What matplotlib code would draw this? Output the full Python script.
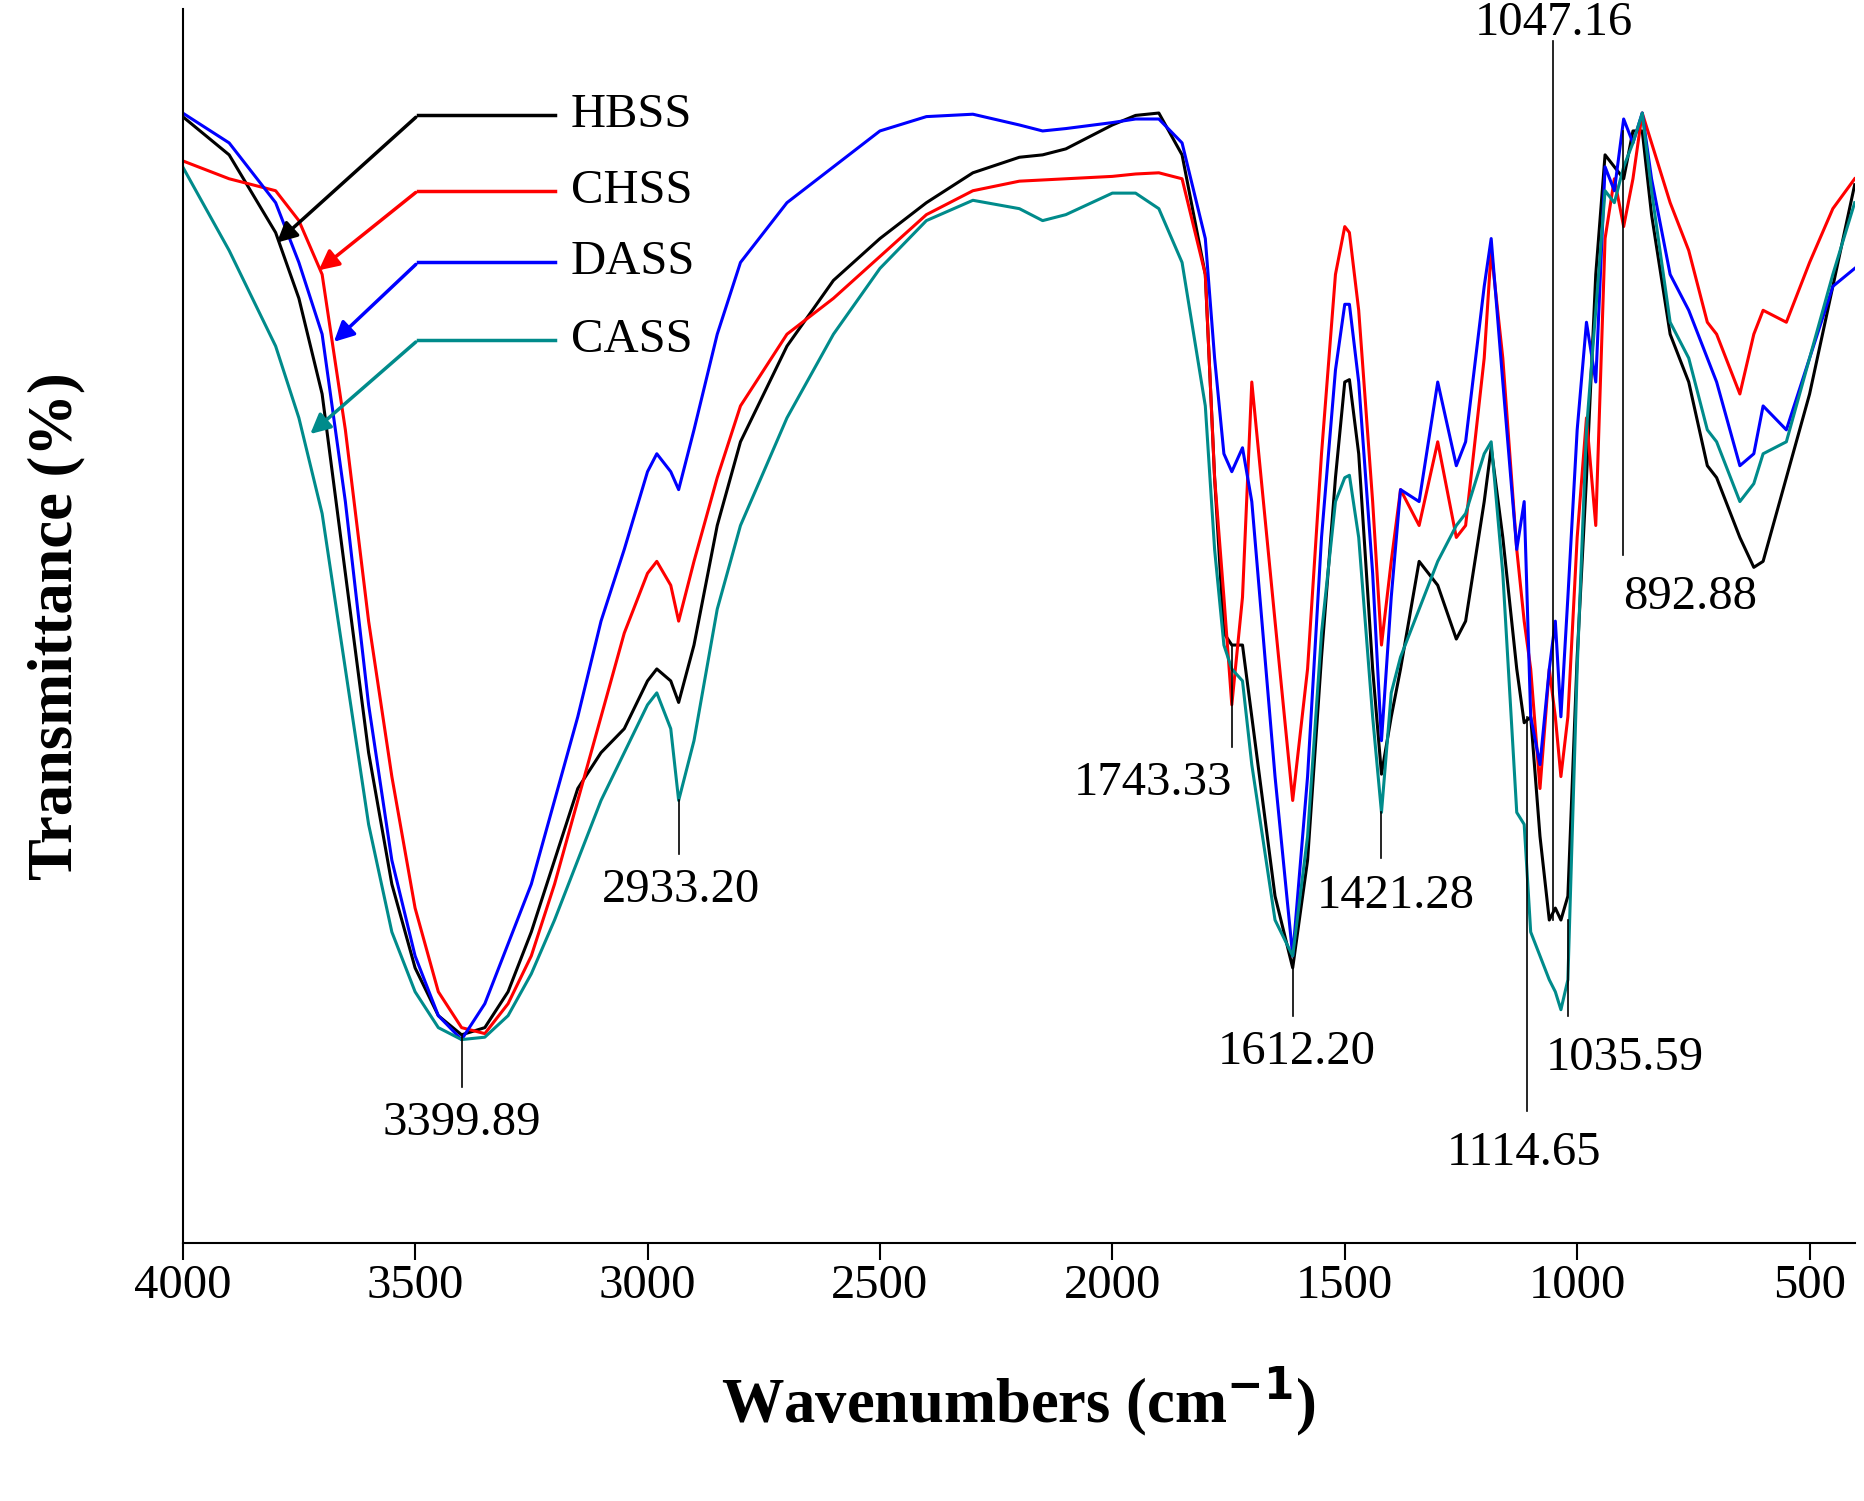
import matplotlib
matplotlib.use("Agg")
import matplotlib.pyplot as plt

wn = [4000,3900,3800,3750,3700,3650,3600,3550,3500,3450,3400,3350,3300,3250,3200,3150,3100,3050,3000,2980,2950,2933,2900,2850,2800,2700,2600,2500,2400,2300,2200,2150,2100,2000,1950,1900,1850,1800,1780,1760,1743,1720,1700,1650,1612,1580,1550,1520,1500,1490,1470,1440,1421,1400,1380,1340,1300,1260,1240,1200,1185,1160,1130,1114,1100,1080,1060,1047,1035,1020,1000,980,960,940,920,900,880,860,840,800,760,720,700,650,620,600,550,500,450,403]

hbss = [98,130,195,250,330,480,630,740,810,850,866,860,830,780,720,660,630,610,570,560,570,588,540,440,370,290,235,200,170,145,132,130,125,105,97,95,130,230,400,530,540,540,600,750,810,720,550,400,320,318,380,560,648,600,560,470,490,535,520,420,375,450,560,605,600,700,770,760,770,750,550,400,230,130,140,150,110,110,180,280,320,390,400,450,475,470,400,330,240,155]
chss = [135,150,160,185,230,360,520,650,760,830,860,865,840,800,740,670,600,530,480,470,490,520,470,400,340,280,250,215,180,160,152,151,150,148,146,145,150,230,400,500,590,500,320,520,670,560,380,230,190,195,260,420,540,470,410,440,370,450,440,300,210,300,460,520,560,660,560,600,650,600,450,350,440,200,150,190,150,95,120,170,210,270,280,330,280,260,270,220,175,150]
dass = [95,120,170,220,280,420,590,720,800,850,870,840,790,740,670,600,520,460,395,380,395,410,360,280,220,170,140,110,98,96,105,110,108,103,100,100,120,200,300,380,395,375,420,650,800,650,450,310,255,255,320,480,620,500,410,420,320,390,370,240,200,320,460,420,600,640,560,520,600,500,360,270,320,140,160,100,120,95,150,230,260,300,320,390,380,340,360,300,240,225]
cass = [140,210,290,350,430,560,690,780,830,860,870,868,850,815,770,720,670,630,590,580,610,670,620,510,440,350,280,225,185,168,175,185,180,162,162,175,220,340,460,540,560,570,640,770,800,700,530,420,400,398,450,600,680,580,550,510,470,440,430,380,370,480,680,690,780,800,820,830,845,820,560,360,260,160,170,140,120,95,160,270,300,360,370,420,405,380,370,300,230,170]

series = [("HBSS", hbss, "black"), ("CHSS", chss, "red"), ("DASS", dass, "blue"), ("CASS", cass, "#008b8b")]

# peak annotations: (text, line x, line y0, line y1, text x, text y)
peaks = [("3399.89", 3400, 865, 910, 3400, 940),
         ("2933.20", 2933, 670, 715, 2928, 745),
         ("1743.33", 1743, 540, 625, 1913, 655),
         ("1612.20", 1612, 810, 850, 1604, 880),
         ("1421.28", 1421, 680, 718, 1391, 750),
         ("1114.65", 1108, 600, 930, 1115, 965),
         ("1035.59", 1020, 770, 850, 898, 885),
         ("1047.16", 1051, 35, 770, 1051, 20),
         ("892.88", 902, 110, 465, 756, 500)]

# legend: (label, line start x, y, arrow tip x, tip y)
legend = [("HBSS", 3494, 97, 3802, 205), ("CHSS", 3494, 160, 3712, 228),
          ("DASS", 3494, 220, 3679, 288), ("CASS", 3494, 285, 3730, 365)]

plt.rcParams["font.family"] = "Liberation Serif"
fig = plt.figure(figsize=(18.64, 15.01), dpi=100)
ax = fig.add_axes([0.098, 0.172, 0.897, 0.822])
for name, v, c in series:
    ax.plot(wn, v, color=c, lw=2.2)
for t, lx, y0, y1, tx, ty in peaks:
    ax.plot([lx, lx], [y0, y1], color="black", lw=1.2)
    ax.text(tx, ty, t, ha="center", va="center", fontsize=35)
for (name, sx, sy, tx, ty), (_, _, c) in zip(legend, series):
    ax.plot([sx, 3198], [sy, sy], color=c, lw=2.5)
    ax.annotate("", xy=(tx, ty), xytext=(sx, sy),
                arrowprops=dict(arrowstyle="-|>", color=c, lw=2.5, mutation_scale=30))
    ax.text(3165, sy, name, ha="left", va="center", fontsize=35)

ax.set_xlim(4000, 403)
ax.set_ylim(1040, 8)
ax.set_xticks([4000, 3500, 3000, 2500, 2000, 1500, 1000, 500])
ax.tick_params(axis="x", labelsize=35, length=12, width=1.5, direction="out")
ax.set_yticks([])
for s in ["top", "right"]:
    ax.spines[s].set_visible(False)
for s in ["left", "bottom"]:
    ax.spines[s].set_linewidth(1.5)
ax.set_xlabel("Wavenumbers (cm$^{\\mathbf{-1}}$)", fontsize=45, fontweight="bold", labelpad=40)
ax.set_ylabel("Transmittance (%)", fontsize=45, fontweight="bold", labelpad=70)
fig.savefig("out.png", dpi=100)
